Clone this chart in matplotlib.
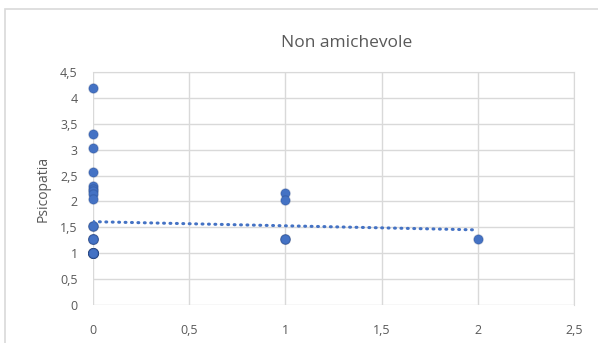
import numpy as np
import matplotlib
matplotlib.use("Agg")
import matplotlib.pyplot as plt
from matplotlib.patches import Rectangle

plt.rcParams['font.family'] = ['Open Sans', 'DejaVu Sans']

# Number of unfriendly behaviours observed vs psychopathy score
x_zero_scores = [4.19, 3.30, 3.04, 2.56, 2.30, 2.25, 2.20, 2.15, 2.04,
                 1.53, 1.53, 1.53,
                 1.27, 1.27, 1.27, 1.27, 1.27,
                 1.01, 1.01, 1.01, 1.01, 1.01, 1.01, 1.01, 1.01, 1.01,
                 1.01, 1.01, 1.01, 1.01]
x_one_scores = [2.17, 2.03, 1.27, 1.27, 1.27]
x_two_scores = [1.27]

x_vals = np.array([0] * len(x_zero_scores) + [1] * len(x_one_scores) + [2] * len(x_two_scores), dtype=float)
y_vals = np.array(x_zero_scores + x_one_scores + x_two_scores)

title = "Non amichevole"
y_label = "Psicopatia"
x_ticks = [0, 0.5, 1, 1.5, 2, 2.5]
y_ticks = [0, 0.5, 1, 1.5, 2, 2.5, 3, 3.5, 4, 4.5]

blue = "#4472C4"
grid_c = "#D9D9D9"
text_c = "#595959"

W, H = 598, 343
fig = plt.figure(figsize=(W / 100, H / 100), dpi=100)
ax = fig.add_axes([93 / W, 1 - 305 / H, 481 / W, 233 / H])

ax.set_xlim(0, 2.5)
ax.set_ylim(0, 4.5)
ax.set_xticks(x_ticks)
ax.set_yticks(y_ticks)

def fmt(v):
    s = f"{v:g}"
    return s.replace(".", ",")

ax.set_xticklabels([fmt(v) for v in x_ticks])
ax.set_yticklabels([fmt(v) for v in y_ticks])
ax.tick_params(length=0, labelsize=9, colors=text_c)
ax.tick_params(axis='x', pad=14)
ax.tick_params(axis='y', pad=11)

ax.grid(True, color=grid_c, linewidth=1)
ax.set_axisbelow(True)
for s in ax.spines.values():
    s.set_visible(False)
ax.spines['right'].set_visible(True)
ax.spines['right'].set_color(grid_c)
ax.spines['top'].set_visible(True)
ax.spines['top'].set_color(grid_c)

# data points; translucent dark edges build up where values overlap
ax.scatter(x_vals, y_vals, s=46, color=blue, edgecolors=(0.08, 0.18, 0.4, 0.2),
           linewidths=1.0, zorder=3, clip_on=False)

# linear trend line
slope, intercept = np.polyfit(x_vals, y_vals, 1)
tx = np.array([x_vals.min(), x_vals.max()])
ax.plot(tx, intercept + slope * tx, color=blue, linewidth=2.2,
        linestyle=(0, (0.3, 1.8)), dash_capstyle='round', zorder=4)

ax.set_ylabel(y_label, fontsize=10, color=text_c, labelpad=7)

fig.text(347 / W, 1 - 43 / H, title, ha='center', va='center', fontsize=12.5, color=text_c)

# chart area border
fig.patches.append(Rectangle((5 / W, -0.2), 1.5, 1.2 - 9 / H, transform=fig.transFigure,
                             fill=False, edgecolor=grid_c, linewidth=1.2))

fig.savefig("out.png", dpi=100)
